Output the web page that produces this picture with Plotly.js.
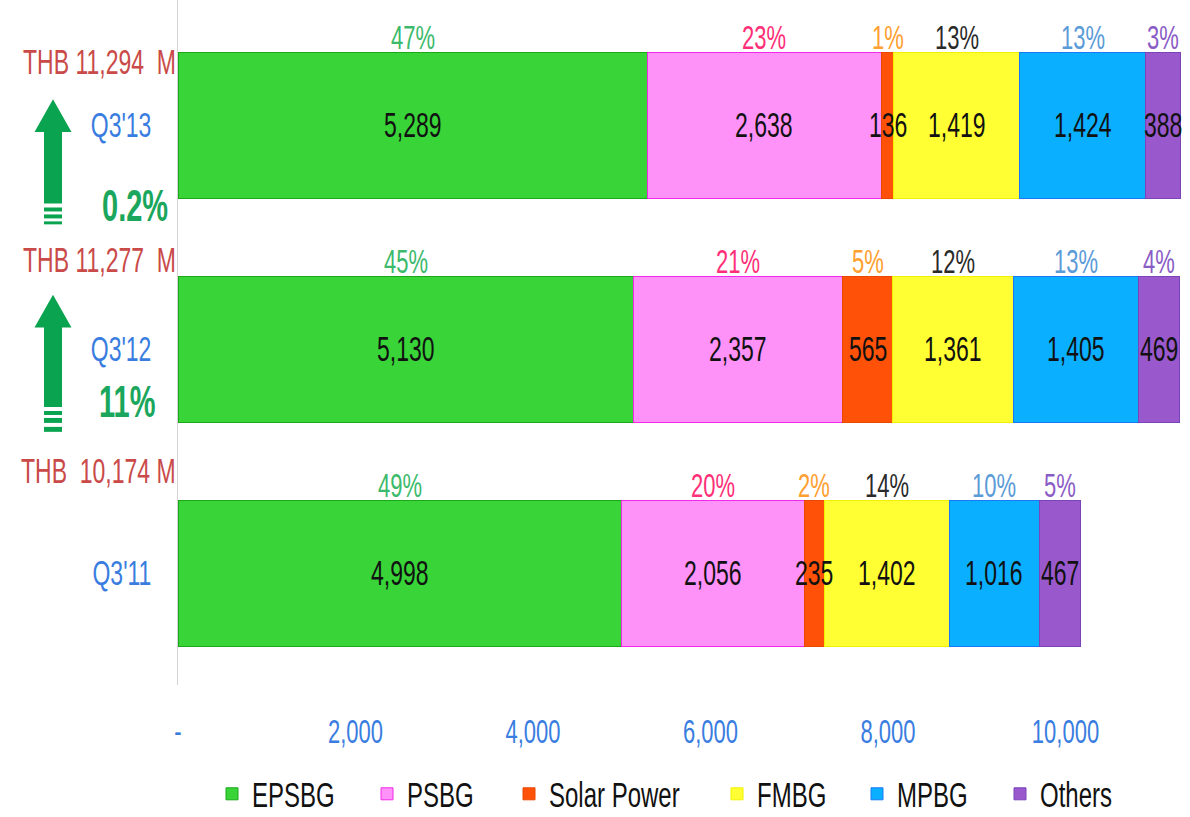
<!DOCTYPE html>
<html>
<head>
<meta charset="utf-8">
<script src="https://cdn.plot.ly/plotly-3.0.1.min.js"></script>
<style>html,body{margin:0;padding:0;background:#fff;}#chart{width:1190px;height:817px;}</style>
</head>
<body>
<div id="chart"></div>
<script>
const categories = ["Q3'11", "Q3'12", "Q3'13"];
const seriesNames = ["EPSBG", "PSBG", "Solar Power", "FMBG", "MPBG", "Others"];
const EPSBG = [4998, 5130, 5289];
const PSBG = [2056, 2357, 2638];
const SolarPower = [235, 565, 136];
const FMBG = [1402, 1361, 1419];
const MPBG = [1016, 1405, 1424];
const Others = [467, 469, 388];
const pctEPSBG = ["49%", "45%", "47%"];
const pctPSBG = ["20%", "21%", "23%"];
const pctSolar = ["2%", "5%", "1%"];
const pctFMBG = ["14%", "12%", "13%"];
const pctMPBG = ["10%", "13%", "13%"];
const pctOthers = ["5%", "4%", "3%"];
const totalLabels = ["THB  10,174 M", "THB 11,277  M", "THB 11,294  M"];
const growthLabels = ["11%", "0.2%"];
const xTickVals = [0, 2000, 4000, 6000, 8000, 10000];
const xTickText = ["-", "2,000", "4,000", "6,000", "8,000", "10,000"];

const series = [EPSBG, PSBG, SolarPower, FMBG, MPBG, Others];
const pcts = [pctEPSBG, pctPSBG, pctSolar, pctFMBG, pctMPBG, pctOthers];
const colors = ["#38d438", "#ff92f8", "#ff5208", "#ffff33", "#0ab0ff", "#9958cc"];
const lineColors = ["#1aa81a", "#f22ae8", "#e84800", "#f2f200", "#1a78f5", "#7a44b8"];
const pctColors = ["#3cba6c", "#ff2f78", "#ffa030", "#2a2a2a", "#5a9bd8", "#8a5cc6"];
const FONT = "'Liberation Sans', Arial, sans-serif";

const L = 178, W = 1012, PH = 690;
const px2x = p => (p - L) / W;
const py2y = p => 1 - p / PH;
const fmt = v => v.toLocaleString('en-US');

const legendIds = ['legend', 'legend2', 'legend3', 'legend4', 'legend5', 'legend6'];
const legendTextStart = [252, 407, 549, 757, 897, 1040];

const traces = series.map((vals, i) => ({
  type: 'bar',
  orientation: 'h',
  name: seriesNames[i],
  legend: legendIds[i],
  y: categories,
  x: vals,
  textposition: 'none',
  marker: {color: colors[i], line: {color: lineColors[i], width: 1}},
  width: 0.652,
  hoverinfo: 'x+name'
}));

const annotations = [];
for (let c = 0; c < categories.length; c++) {
  let cum = 0;
  for (let i = 0; i < series.length; i++) {
    const v = series[i][c];
    // value label centred in the segment
    annotations.push({
      x: cum + v / 2, y: c, xref: 'x', yref: 'y',
      text: fmt(v), showarrow: false, yanchor: 'middle', xanchor: 'center',
      font: {family: FONT, size: 23, color: '#111'}
    });
    // share label above the segment
    annotations.push({
      x: cum + v / 2, y: c + 0.326, xref: 'x', yref: 'y',
      text: pcts[i][c], showarrow: false, yanchor: 'middle', yshift: 15,
      font: {family: FONT, size: 22, color: pctColors[i]}
    });
    cum += v;
  }
}
const totalPix = [474, 262, 62];
totalLabels.forEach((t, k) => {
  annotations.push({
    xref: 'paper', yref: 'paper', x: px2x(178), xanchor: 'right',
    y: py2y(totalPix[k]), yanchor: 'middle',
    text: t, showarrow: false,
    font: {family: FONT, size: 23, color: '#c94a48'}
  });
});
const growthPix = [405, 207];
const growthX = [127, 135];
growthLabels.forEach((t, k) => {
  annotations.push({
    xref: 'paper', yref: 'paper', x: px2x(growthX[k]), xanchor: 'center',
    y: py2y(growthPix[k]), yanchor: 'middle',
    text: '<b>' + t + '</b>', showarrow: false,
    font: {family: FONT, size: 29, color: '#1aa65c'}
  });
});

// decorative growth arrows (pixel geometry converted to paper coords)
const shapes = [];
const arrowDefs = [
  {tip: 100, head: 133, end: 205, bands: [[209, 213], [216, 220], [223, 226]]},
  {tip: 297, head: 330, end: 410, bands: [[414, 418], [421, 426], [430, 435]]}
];
const AX = 53, HW = 18.5, SW = 9;
arrowDefs.forEach(a => {
  const pts = [[AX, a.tip], [AX + HW, a.head], [AX + SW, a.head], [AX + SW, a.end],
               [AX - SW, a.end], [AX - SW, a.head], [AX - HW, a.head]];
  const path = 'M' + pts.map(p => px2x(p[0]).toFixed(5) + ',' + py2y(p[1]).toFixed(5)).join(' L') + ' Z';
  shapes.push({type: 'path', xref: 'paper', yref: 'paper', path: path,
    fillcolor: '#0aa34f', line: {width: 0}, layer: 'above'});
  a.bands.forEach(b => {
    shapes.push({type: 'rect', xref: 'paper', yref: 'paper',
      x0: px2x(AX - SW), x1: px2x(AX + SW), y0: py2y(b[1]), y1: py2y(b[0]),
      fillcolor: '#0aa34f', line: {width: 0}, layer: 'above'});
  });
});

const layout = {
  width: 1190, height: 817,
  margin: {l: L, r: 1190 - L - W, t: 0, b: 817 - PH},
  barmode: 'stack',
  paper_bgcolor: '#ffffff', plot_bgcolor: '#ffffff',
  showlegend: true,
  xaxis: {
    range: [0, 11403], tickvals: xTickVals, ticktext: xTickText,
    showgrid: false, zeroline: false, showline: false, ticks: '',
    tickfont: {family: FONT, size: 22, color: '#3a7de0'},
    ticklabelstandoff: 31, fixedrange: true
  },
  yaxis: {
    range: [-0.5, 2.56], showgrid: false, zeroline: false,
    showline: true, linecolor: '#d4d4d4', linewidth: 1,
    ticks: '', tickfont: {family: FONT, size: 23, color: '#3a7de0'},
    ticklabelstandoff: 21, fixedrange: true
  },
  annotations: annotations,
  shapes: shapes
};
legendIds.forEach((id, i) => {
  layout[id] = {
    orientation: 'h', x: px2x(legendTextStart[i] - 40), xanchor: 'left',
    y: -(800 - PH) / PH, yanchor: 'middle', bgcolor: 'rgba(0,0,0,0)',
    font: {family: FONT, size: 24, color: '#111'}, itemwidth: 30
  };
});

// Reference text is drawn tall and narrow; stretch every label vertically about its centre.
function stretchText(gd, s) {
  gd.querySelectorAll('svg text').forEach(t => {
    if (!t.textContent.trim()) return;
    let bb;
    try { bb = t.getBBox(); } catch (e) { return; }
    if (!bb || !bb.height) return;
    const yc = bb.y + bb.height * 0.5;
    const tr = t.getAttribute('transform') || '';
    t.setAttribute('transform', tr + ' translate(0,' + yc + ') scale(1,' + s + ') translate(0,' + (-yc) + ')');
  });
}

Plotly.newPlot('chart', traces, layout, {displayModeBar: false, staticPlot: true})
  .then(gd => stretchText(gd, 1.5));
</script>
</body>
</html>
